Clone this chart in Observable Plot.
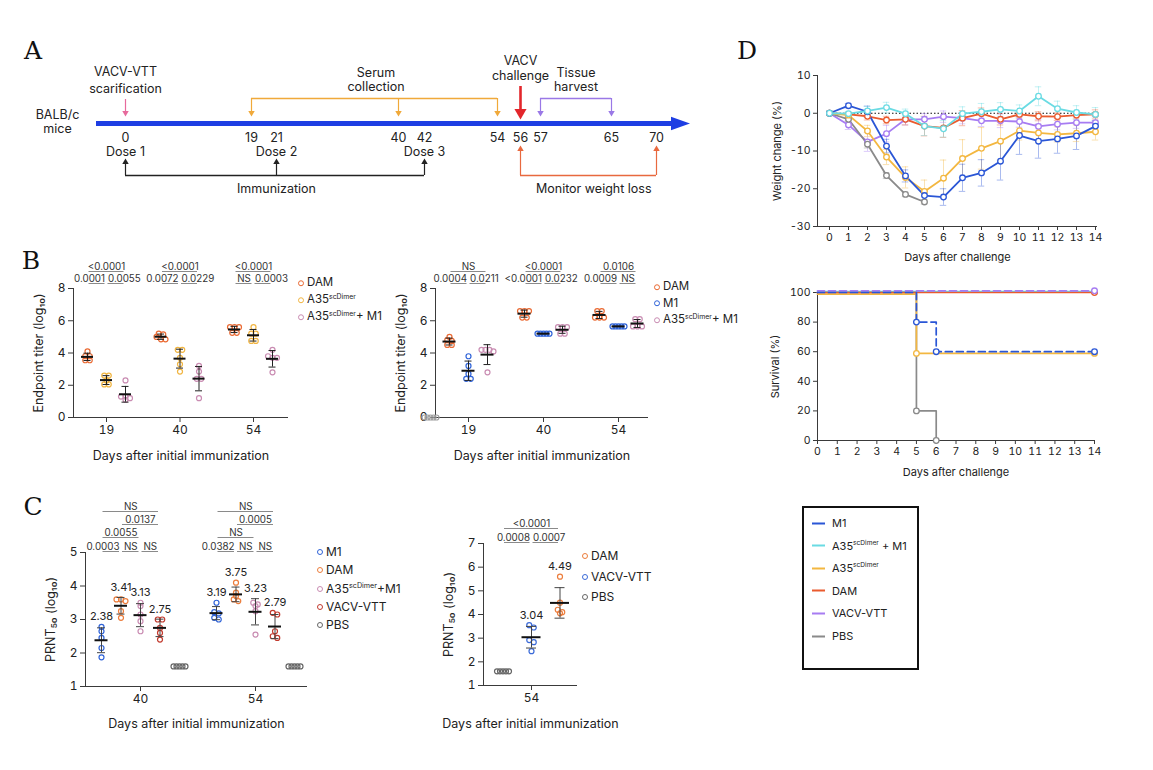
<!DOCTYPE html>
<html>
<head>
<meta charset="utf-8">
<script src="https://cdn.jsdelivr.net/npm/d3@7"></script>
<script src="https://cdn.jsdelivr.net/npm/@observablehq/plot@0.6"></script>
<style>
html,body{margin:0;padding:0;background:#fff;overflow:hidden;}
#fig{position:relative;width:1153px;height:770px;font-family:Inter,"Noto Sans","DejaVu Sans",sans-serif;color:#222;}
#fig > svg{position:absolute;left:0;top:0;}
.letter{position:absolute;font-family:"DejaVu Serif","Liberation Serif",serif;font-size:25px;line-height:1;transform:translate(-50%,-50%);color:#111;}
.lg{position:absolute;display:flex;align-items:center;white-space:nowrap;line-height:1;transform:translateY(-50%);color:#222;}
.lg .dotsw{display:inline-block;box-sizing:border-box;border-radius:50%;border:1.3px solid;background:transparent;flex:none;}
.lg .linesw{display:inline-block;height:2px;flex:none;}
.lg sup{font-size:0.6em;vertical-align:0.65em;line-height:0;}
.box{position:absolute;border:2px solid #111;box-sizing:border-box;}
</style>
</head>
<body>
<div id="fig"></div>
<script>
// ===================== DATA =====================
// Panel A: study timeline (days)
const timelineDays = [0, 19, 21, 40, 42, 54, 56, 57, 65, 70];
const doseDays = [0, 21, 42];
const doseLabels = ["Dose 1", "Dose 2", "Dose 3"];
const scarificationDay = 0;
const serumDays = [19, 40, 54];
const challengeDay = 56;
const harvestDays = [57, 65];
const monitorDays = [56, 70];

// Panel B (left): endpoint titer, log10, per mouse
const bDays = [19, 40, 54];
const bLeftNames = ["DAM", "A35scDimer", "A35scDimer+ M1"];
const bLeftDAM = [[4.1, 3.8, 3.8, 3.55, 3.55], [5.2, 5.15, 5.0, 4.85, 4.85], [5.6, 5.6, 5.6, 5.25, 5.25]];
const bLeftA35 = [[2.6, 2.6, 2.3, 2.05, 2.05], [4.2, 4.2, 3.7, 3.3, 2.85], [5.6, 5.2, 5.2, 4.75, 4.75]];
const bLeftA35M1 = [[2.3, 1.3, 1.3, 1.2, 1.1], [3.2, 2.85, 2.4, 2.4, 1.2], [4.2, 3.8, 3.7, 3.7, 2.8]];
const bLeftP = [["<0.0001", "0.0001", "0.0055"], ["<0.0001", "0.0072", "0.0229"], ["<0.0001", "NS", "0.0003"]];

// Panel B (right)
const bRightNames = ["DAM", "M1", "A35scDimer+ M1"];
const bRightDAM = [[5.0, 4.8, 4.75, 4.5, 4.5], [6.6, 6.6, 6.6, 6.2, 6.2], [6.6, 6.6, 6.2, 6.2, 6.2]];
const bRightM1 = [[3.8, 3.2, 2.7, 2.4, 2.4], [5.2, 5.2, 5.2, 5.2, 5.2], [5.65, 5.65, 5.65, 5.65, 5.65]];
const bRightA35M1 = [[4.2, 4.2, 4.2, 4.1, 2.8], [5.6, 5.6, 5.6, 5.2, 5.2], [6.1, 6.1, 5.65, 5.65, 5.65]];
const bRightPBS = [0, 0, 0, 0, 0];
const bRightP = [["NS", "0.0004", "0.0211"], ["<0.0001", "<0.0001", "0.0232"], ["0.0106", "0.0009", "NS"]];

// Panel C (left): PRNT50, log10
const cDays = [40, 54];
const cLeftNames = ["M1", "DAM", "A35scDimer+M1", "VACV-VTT", "PBS"];
const cLeftM1 = [[2.78, 2.65, 2.45, 2.15, 1.87], [3.5, 3.22, 3.18, 3.05, 3.0]];
const cLeftDAM = [[3.6, 3.6, 3.55, 3.25, 3.05], [4.1, 3.8, 3.7, 3.6, 3.55]];
const cLeftA35M1 = [[3.5, 3.4, 3.15, 2.95, 2.65], [3.5, 3.45, 3.4, 3.25, 2.55]];
const cLeftVACV = [[3.0, 3.0, 2.75, 2.6, 2.4], [3.2, 3.15, 2.65, 2.5, 2.45]];
const cLeftPBS = [[1.6, 1.6, 1.6, 1.6, 1.6], [1.6, 1.6, 1.6, 1.6, 1.6]];
const cLeftP = [["NS", "0.0137", "0.0055", "0.0003", "NS", "NS"], ["NS", "0.0005", "NS", "0.0382", "NS", "NS"]];

// Panel C (right)
const cRightDays = [54];
const cRightNames = ["DAM", "VACV-VTT", "PBS"];
const cRightDAM = [5.6, 4.5, 4.2, 4.1, 4.05];
const cRightVACV = [3.55, 3.45, 2.92, 2.83, 2.45];
const cRightPBS = [1.6, 1.6, 1.6, 1.6, 1.6];
const cRightP = ["<0.0001", "0.0008", "0.0007"];

// Comparison brackets (indices of groups from left to right) and their rows (0 = top)
const bLeftComps = [[0, 2], [0, 1], [1, 2]];
const bRightComps = [[1, 3], [1, 2], [2, 3]];
const bRows = [0, 1, 1];
const cLeftComps = [[0, 3], [1, 3], [0, 2], [0, 1], [1, 2], [2, 3]];
const cLeftRows = [0, 1, 2, 3, 3, 3];
const cRightComps = [[0, 2], [0, 1], [1, 2]];
const cRightRows = [0, 1, 1];

// Panel D: weight change (%) mean and SD per day after challenge
const dDays = [0, 1, 2, 3, 4, 5, 6, 7, 8, 9, 10, 11, 12, 13, 14];
const dNames = ["M1", "A35scDimer + M1", "A35scDimer", "DAM", "VACV-VTT", "PBS"];
const wM1 = [0, 2.0, 0.4, -8.7, -16.6, -21.8, -22.2, -17.1, -15.8, -12.7, -5.9, -7.4, -6.8, -6.0, -3.4];
const wM1sd = [0, 0.6, 1.5, 1.8, 1.6, 1.2, 2.2, 3.6, 3.5, 5.0, 5.0, 4.5, 3.8, 3.6, 1.5];
const wA35M1 = [0, -0.1, 0.6, 1.5, -0.1, -3.4, -4.1, -0.1, 0.4, 1.0, 0.6, 4.5, 1.2, 0.2, -0.3];
const wA35M1sd = [0, 0.5, 1.2, 1.4, 1.2, 2.5, 2.2, 1.8, 2.2, 1.8, 1.6, 2.5, 2.0, 1.8, 1.8];
const wA35 = [0, -0.5, -4.7, -11.6, -17.0, -20.7, -17.2, -12.0, -9.3, -7.4, -4.6, -5.2, -5.6, -5.3, -4.9];
const wA35sd = [0, 0.6, 1.5, 2.0, 2.8, 3.0, 4.8, 5.0, 5.5, 5.0, 2.5, 2.2, 2.0, 2.2, 2.2];
const wDAM = [0, -0.3, -0.8, -1.8, -1.6, -3.4, -3.9, -1.3, -0.1, -1.6, -0.3, -0.8, -0.9, -0.5, -0.3];
const wDAMsd = [0, 0.5, 1.0, 1.0, 1.5, 2.6, 2.5, 2.0, 1.5, 1.5, 1.0, 1.2, 1.0, 1.0, 1.2];
const wVACV = [0, -3.1, -7.6, -5.4, -1.6, -1.6, -0.9, -1.3, -2.0, -2.0, -2.2, -3.5, -2.9, -2.5, -2.5];
const wVACVsd = [0, 1.2, 2.5, 2.2, 1.5, 1.5, 1.5, 1.5, 1.5, 1.8, 1.5, 1.8, 1.5, 1.5, 1.5];
const wPBS = [0, -1.6, -8.2, -16.5, -21.5, -23.5];
const wPBSsd = [0, 0.6, 1.0, 0.8, 0.6, 0.6];

// Panel D: survival (%)
const survTimes = [0, 5, 6, 14];
const survM1 = [100, 80, 60, 60];
const survA35M1 = [100, 100, 100, 100];
const survA35 = [100, 60, 60, 60];
const survDAM = [100, 100, 100, 100];
const survVACV = [100, 100, 100, 100];
const survPBS = [100, 20, 0, null];

// ===================== LAYOUT / STYLE =====================
const W = 1153, H = 770;
const FONT = 'Inter, "Noto Sans", "DejaVu Sans", sans-serif';
const AX = "#3a3a3a";
const fig = document.getElementById("fig");
const COL = {DAM: "#ea6a33", A35: "#f1b541", A35M1: "#c98cb2", M1: "#2f63d8", VACV: "#c23a2e", PBS: "#8f8f8f", DAMc: "#ec7d3c"};
const DCOL = {M1: "#2a56d6", A35M1: "#6adbe3", A35: "#f3b740", DAM: "#ea5b2e", VACV: "#a77cf2", PBS: "#8a8a8a"};
const dColors = [DCOL.M1, DCOL.A35M1, DCOL.A35, DCOL.DAM, DCOL.VACV, DCOL.PBS];
const intFmt = d => String(d);

const baseStyle = {background: "transparent", fontFamily: FONT, color: "#222", overflow: "visible"};
function framePlot(frame, opts) {
  return Plot.plot(Object.assign({
    width: W, height: H,
    marginLeft: frame.l, marginRight: W - frame.r,
    marginTop: frame.t, marginBottom: H - frame.b,
    style: baseStyle
  }, opts));
}
function add(node) { fig.appendChild(node); }
function fmtName(n) { return n.replace("scDimer", "<sup>scDimer</sup>"); }
const xTitleMark = (t, dy, fs) => Plot.text([t], {text: d => d, frameAnchor: "bottom", lineAnchor: "middle", textAnchor: "middle", dy, fontSize: fs});
const yTitleMark = (t, dx, fs) => Plot.text([t], {text: d => d, frameAnchor: "left", textAnchor: "middle", lineAnchor: "middle", rotate: -90, dx, fontSize: fs});

// beeswarm-like horizontal spreading of points with similar values (pixel offsets)
function swarm(vals, ppu, binPx = 3) {
  const order = d3.range(vals.length).sort((a, b) => vals[b] - vals[a]);
  const off = vals.map(() => 0);
  let bin = [], top = 0;
  const flush = () => {
    const n = bin.length, step = n > 1 ? Math.min(4.5, 12 / (n - 1)) : 0;
    bin.forEach((i, k) => off[i] = (k - (n - 1) / 2) * step);
    bin = [];
  };
  for (const i of order) {
    const p = vals[i] * ppu;
    if (bin.length && top - p > binPx) flush();
    if (!bin.length) top = p;
    bin.push(i);
  }
  flush();
  return off;
}

function scatterPanel(cfg) {
  const {frame, c0, dayPx, gPx, yDomain, yTicks, dayLabels, groups, comps, rows, pvals, rowPx,
    r, meanHalf, capHalf, errColor, xTitle, yTitle, titleDy, yTitleDx, meanLabels} = cfg;
  const ppu = (frame.b - frame.t) / (yDomain[1] - yDomain[0]);
  const u = px => px / dayPx;
  const xDomain = [u(frame.l - c0), u(frame.r - c0)];
  const pts = [], stats = [];
  for (const g of groups) {
    g.values.forEach((vals, di) => {
      if (!vals) return;
      const cx = di + u(g.slot * gPx);
      const off = swarm(vals, ppu);
      vals.forEach((v, k) => pts.push({name: g.name, x: cx + u(off[k]), y: v}));
      if (g.summary) {
        const m = d3.mean(vals), s = d3.deviation(vals);
        stats.push({cx, m, s, top: Math.max(d3.max(vals), m + s)});
      }
    });
  }
  const sorted = groups.slice().sort((a, b) => a.slot - b.slot);
  const inset = 1.5;
  const sig = [];
  pvals.forEach((plist, di) => {
    comps.forEach(([a, b], j) => {
      const x1 = di + u(sorted[a].slot * gPx + inset);
      const x2 = di + u(sorted[b].slot * gPx - inset);
      const y = yDomain[1] + rowPx[rows[j]] / ppu;
      const same = comps.filter((c, k) => rows[k] === rows[j]);
      let anchor = "middle";
      if (plist[j] !== "NS" && same.length > 1) {
        if (a === d3.min(same, c => c[0])) anchor = "end";
        else if (b === d3.max(same, c => c[1])) anchor = "start";
      }
      const xt = anchor === "end" ? x2 : anchor === "start" ? x1 : (x1 + x2) / 2;
      sig.push({x1, x2, y, xt, anchor, text: plist[j]});
    });
  });
  const marks = [
    Plot.ruleX([xDomain[0]], {stroke: AX}),
    Plot.ruleY([yDomain[0]], {stroke: AX}),
    Plot.axisY({ticks: yTicks, tickFormat: intFmt, tickSize: 5, tickPadding: 3, fontSize: 12, label: null, stroke: AX}),
    Plot.axisX({ticks: dayLabels.map((d, i) => i), tickFormat: i => String(dayLabels[Math.round(i)]), tickSize: 5, tickPadding: 3, fontSize: 12, label: null, stroke: AX}),
    Plot.dot(pts, {x: "x", y: "y", r, stroke: "name", fill: "none", strokeWidth: 1.2}),
    Plot.ruleX(stats, {x: "cx", y1: d => d.m - d.s, y2: d => d.m + d.s, stroke: errColor, strokeWidth: 1}),
    Plot.ruleY(stats, {y: d => d.m - d.s, x1: d => d.cx - u(capHalf), x2: d => d.cx + u(capHalf), stroke: errColor}),
    Plot.ruleY(stats, {y: d => d.m + d.s, x1: d => d.cx - u(capHalf), x2: d => d.cx + u(capHalf), stroke: errColor}),
    Plot.ruleY(stats, {y: "m", x1: d => d.cx - u(meanHalf), x2: d => d.cx + u(meanHalf), stroke: "#111", strokeWidth: 2}),
    Plot.ruleY(sig, {y: "y", x1: "x1", x2: "x2", stroke: "#8a8a8a", strokeWidth: 1}),
    ...["start", "middle", "end"].map(a => Plot.text(sig.filter(d => d.anchor === a),
      {x: "xt", y: "y", text: "text", textAnchor: a, lineAnchor: "bottom", dy: -1.5, fontSize: 9.8, fill: "#333"})),
    xTitleMark(xTitle, titleDy, 12.5),
    yTitleMark(yTitle, yTitleDx, 12.5)
  ];
  if (meanLabels) marks.push(Plot.text(stats, {x: "cx", y: "top", text: d => d.m.toFixed(2), dy: -10, fontSize: 11}));
  return framePlot(frame, {
    x: {domain: xDomain},
    y: {domain: yDomain},
    color: {domain: groups.map(g => g.name), range: groups.map(g => g.color)},
    marks
  });
}

function dotLegend(names, colors, {x, y, dy, fs, d = 6, gap = 3}) {
  names.forEach((n, i) => {
    const el = document.createElement("div");
    el.className = "lg";
    el.style.left = (x - d / 2) + "px";
    el.style.top = (y + i * dy) + "px";
    el.style.fontSize = fs + "px";
    el.innerHTML = `<span class="dotsw" style="width:${d}px;height:${d}px;border-color:${colors[i]};margin-right:${gap}px"></span><span>${fmtName(n)}</span>`;
    add(el);
  });
}

function letter(t, x, y) {
  const el = document.createElement("div");
  el.className = "letter";
  el.style.left = x + "px"; el.style.top = y + "px";
  el.textContent = t;
  add(el);
}

// ===================== PANEL A =====================
try {
  // schematic (not-to-scale) horizontal placement of the timeline days
  const timelinePx = [125, 251, 276, 398, 424, 497, 520, 540, 611, 656];
  const tl = d3.scaleLinear().domain(timelineDays).range(timelinePx);
  const LA = {title: 78.5, brTop: 98, brTip: 116, axis: 123, num: 137, dose: 151, brBot: 175, immTip: 158, monTip: 145, label2: 188, chalTop: 86, chalTip: 119, chalText: 67.5, scarTop: 99, scarTip: 116, balb: 121};
  const C = {blue: "#1e3ee3", orange: "#f0a93a", red: "#e3262b", purple: "#9a78e6", pink: "#e76a9c", mon: "#e8693f", black: "#222"};
  const mid = a => (d3.min(a) + d3.max(a)) / 2;
  const fs = 12.5;
  const head = {draw(ctx, size) { const k = Math.sqrt(size / Math.PI); ctx.moveTo(k, 0); ctx.lineTo(-k, -0.7 * k); ctx.lineTo(-k, 0.7 * k); ctx.closePath(); }};
  // arrow = shaft + filled triangular head (tip exactly at y2)
  const arr = (data, y1, y2, stroke, w = 1.2, r = 2.4) => {
    const k = Math.sqrt(Math.PI * r * r / (3 * Math.sqrt(3)));
    const down = y2 > y1;
    return [
      Plot.ruleX(data, {x: d => tl(d), y1: () => y1, y2: () => y2 + (down ? -2 * k : 2 * k), stroke, strokeWidth: w}),
      Plot.dot(data, {x: d => tl(d), y: () => y2, dy: down ? -2 * k : 2 * k, symbol: "triangle", rotate: down ? 180 : 0, r, fill: stroke, stroke: "none"})
    ];
  };
  const bracket = (days, y, stroke) => Plot.ruleY([days], {y: () => y, x1: d => tl(d3.min(d)), x2: d => tl(d3.max(d)), stroke, strokeWidth: 1.3});
  const label = (day, y, t, lh) => Plot.text([day], {x: d => tl(d), y: () => y, text: () => t, fontSize: fs, lineHeight: lh || 1});
  add(framePlot({l: 96, r: 680, t: 0, b: H}, {
    x: {type: "identity", axis: null},
    y: {type: "identity", axis: null},
    marks: [
      Plot.ruleY([LA.axis], {y: d => d, stroke: C.blue, strokeWidth: 5}),
      Plot.dot([LA.axis], {y: d => d, frameAnchor: "right", symbol: head, r: 9.5, fill: C.blue, stroke: "none"}),
      Plot.text(timelineDays, {x: d => tl(d), y: () => LA.num, text: d => String(d), fontSize: fs}),
      Plot.text(doseDays, {x: d => tl(d), y: () => LA.dose, text: (d, i) => doseLabels[i], fontSize: fs}),
      // scarification
      ...arr([scarificationDay], LA.scarTop, LA.scarTip, C.pink),
      label(scarificationDay, LA.title, "VACV-VTT\nscarification", 1.35),
      // serum collection
      bracket(serumDays, LA.brTop, C.orange),
      ...arr(serumDays, LA.brTop, LA.brTip, C.orange),
      label(mid(serumDays), LA.title + 0.5, "Serum\ncollection", 1.12),
      // challenge
      ...arr([challengeDay], LA.chalTop, LA.chalTip, C.red, 2.6, 4.5),
      label(challengeDay, LA.chalText, "VACV\nchallenge", 1.2),
      // tissue harvest
      bracket(harvestDays, LA.brTop, C.purple),
      ...arr(harvestDays, LA.brTop, LA.brTip, C.purple),
      label(mid(harvestDays), LA.title + 0.5, "Tissue\nharvest", 1.12),
      // immunization
      bracket(doseDays, LA.brBot, C.black),
      ...arr(doseDays, LA.brBot, LA.immTip, C.black),
      label(mid(doseDays), LA.label2, "Immunization"),
      // monitor weight loss
      bracket(monitorDays, LA.brBot, C.mon),
      ...arr(monitorDays, LA.brBot, LA.monTip, C.mon),
      label(mid(monitorDays), LA.label2, "Monitor weight loss"),
      // subject
      Plot.text(["BALB/c\nmice"], {text: d => d, frameAnchor: "left", textAnchor: "middle", y: () => LA.balb, dx: -39, fontSize: fs, lineHeight: 1.12})
    ]
  }));
} catch (e) { console.error("Panel A", e); }

// ===================== PANEL B =====================
try {
  add(scatterPanel({
    frame: {l: 73, r: 288, t: 288, b: 417}, c0: 106, dayPx: 73.5, gPx: 19,
    yDomain: [0, 8], yTicks: [0, 2, 4, 6, 8], dayLabels: bDays,
    groups: [
      {name: bLeftNames[0], color: COL.DAM, slot: -1, values: bLeftDAM, summary: true},
      {name: bLeftNames[1], color: COL.A35, slot: 0, values: bLeftA35, summary: true},
      {name: bLeftNames[2], color: COL.A35M1, slot: 1, values: bLeftA35M1, summary: true}
    ],
    comps: bLeftComps, rows: bRows, pvals: bLeftP, rowPx: [17, 5],
    r: 2.5, meanHalf: 6, capHalf: 3.5, errColor: "#222",
    xTitle: "Days after initial immunization", yTitle: "Endpoint titer (log\u2081\u2080)", titleDy: 38, yTitleDx: -35
  }));
  dotLegend(bLeftNames, [COL.DAM, COL.A35, COL.A35M1], {x: 301, y: 283, dy: 17, fs: 11.5});

  add(scatterPanel({
    frame: {l: 435, r: 648, t: 288, b: 417}, c0: 468, dayPx: 75, gPx: 19,
    yDomain: [0, 8], yTicks: [0, 2, 4, 6, 8], dayLabels: bDays,
    groups: [
      {name: "PBS", color: "#a0a0a0", slot: -2, values: [bRightPBS, null, null], summary: false},
      {name: bRightNames[0], color: COL.DAM, slot: -1, values: bRightDAM, summary: true},
      {name: bRightNames[1], color: COL.M1, slot: 0, values: bRightM1, summary: true},
      {name: bRightNames[2], color: COL.A35M1, slot: 1, values: bRightA35M1, summary: true}
    ],
    comps: bRightComps, rows: bRows, pvals: bRightP, rowPx: [17, 5],
    r: 2.5, meanHalf: 6.5, capHalf: 3.5, errColor: "#222",
    xTitle: "Days after initial immunization", yTitle: "Endpoint titer (log\u2081\u2080)", titleDy: 38, yTitleDx: -35
  }));
  dotLegend(bRightNames, [COL.DAM, COL.M1, COL.A35M1], {x: 657, y: 287, dy: 16.5, fs: 11.5});
} catch (e) { console.error("Panel B", e); }

// ===================== PANEL C =====================
try {
  add(scatterPanel({
    frame: {l: 85, r: 307, t: 552, b: 686}, c0: 140, dayPx: 115, gPx: 19.5,
    yDomain: [1, 5], yTicks: [1, 2, 3, 4, 5], dayLabels: cDays,
    groups: [
      {name: cLeftNames[0], color: COL.M1, slot: -2, values: cLeftM1, summary: true},
      {name: cLeftNames[1], color: COL.DAMc, slot: -1, values: cLeftDAM, summary: true},
      {name: cLeftNames[2], color: COL.A35M1, slot: 0, values: cLeftA35M1, summary: true},
      {name: cLeftNames[3], color: COL.VACV, slot: 1, values: cLeftVACV, summary: true},
      {name: cLeftNames[4], color: "#666", slot: 2, values: cLeftPBS, summary: false}
    ],
    comps: cLeftComps, rows: cLeftRows, pvals: cLeftP, rowPx: [41, 28, 15, 1],
    r: 2.5, meanHalf: 6.5, capHalf: 4, errColor: "#444", meanLabels: true,
    xTitle: "Days after initial immunization", yTitle: "PRNT\u2085\u2080 (log\u2081\u2080)", titleDy: 37, yTitleDx: -35
  }));
  dotLegend(cLeftNames, [COL.M1, COL.DAMc, COL.A35M1, COL.VACV, "#666"], {x: 320, y: 552, dy: 18.3, fs: 12});

  add(scatterPanel({
    frame: {l: 483, r: 577, t: 543, b: 685}, c0: 531, dayPx: 28.5, gPx: 28.5,
    yDomain: [1, 7], yTicks: [1, 2, 3, 4, 5, 6, 7], dayLabels: cRightDays,
    groups: [
      {name: cRightNames[0], color: COL.DAMc, slot: 1, values: [cRightDAM], summary: true},
      {name: cRightNames[1], color: "#3a6ad8", slot: 0, values: [cRightVACV], summary: true},
      {name: cRightNames[2], color: "#666", slot: -1, values: [cRightPBS], summary: false}
    ],
    comps: cRightComps, rows: cRightRows, pvals: [cRightP], rowPx: [15, 1],
    r: 2.5, meanHalf: 9.5, capHalf: 5, errColor: "#444", meanLabels: true,
    xTitle: "Days after initial immunization", yTitle: "PRNT\u2085\u2080 (log\u2081\u2080)", titleDy: 38, yTitleDx: -35
  }));
  dotLegend(cRightNames, [COL.DAMc, "#3a6ad8", "#666"], {x: 585, y: 556, dy: 20.5, fs: 12});
} catch (e) { console.error("Panel C", e); }

// ===================== PANEL D (weight) =====================
try {
  const wSeries = [
    {name: dNames[4], vals: wVACV, sd: wVACVsd},
    {name: dNames[3], vals: wDAM, sd: wDAMsd},
    {name: dNames[5], vals: wPBS, sd: wPBSsd},
    {name: dNames[2], vals: wA35, sd: wA35sd},
    {name: dNames[0], vals: wM1, sd: wM1sd},
    {name: dNames[1], vals: wA35M1, sd: wA35M1sd}
  ];
  const wData = wSeries.flatMap(s => s.vals.map((v, i) => ({name: s.name, day: dDays[i], v, sd: s.sd[i]})));
  const wErr = wData.filter(d => d.sd > 0);
  const f = {l: 817, r: 1097, t: 75, b: 226}, day0 = 829, dayPx = 19;
  const xd = [(f.l - day0) / dayPx, (f.r - day0) / dayPx];
  const cap = 0.17;
  add(framePlot(f, {
    x: {domain: xd}, y: {domain: [-30, 10]},
    color: {domain: dNames, range: dColors},
    marks: [
      Plot.ruleX([xd[0]], {stroke: AX}),
      Plot.ruleY([-30], {stroke: AX}),
      Plot.axisY({ticks: [-30, -20, -10, 0, 10], tickFormat: intFmt, tickSize: 4, tickPadding: 3, fontSize: 10.5, label: null, stroke: AX}),
      Plot.axisX({ticks: dDays, tickFormat: intFmt, tickSize: 4, tickPadding: 3, fontSize: 10.5, label: null, stroke: AX}),
      Plot.ruleY([0], {x1: () => d3.min(dDays), x2: () => d3.max(dDays), stroke: "#111", strokeDasharray: "1.5,2"}),
      Plot.ruleX(wErr, {x: "day", y1: d => d.v - d.sd, y2: d => d.v + d.sd, stroke: "name", strokeOpacity: 0.4}),
      Plot.ruleY(wErr, {y: d => d.v - d.sd, x1: d => d.day - cap, x2: d => d.day + cap, stroke: "name", strokeOpacity: 0.4}),
      Plot.ruleY(wErr, {y: d => d.v + d.sd, x1: d => d.day - cap, x2: d => d.day + cap, stroke: "name", strokeOpacity: 0.4}),
      Plot.line(wData, {x: "day", y: "v", z: "name", stroke: "name", strokeWidth: 1.8}),
      Plot.dot(wData, {x: "day", y: "v", stroke: "name", fill: "white", r: 2.8, strokeWidth: 1.3}),
      xTitleMark("Days after challenge", 31, 11),
      yTitleMark("Weight change (%)", -40, 11)
    ]
  }));
} catch (e) { console.error("Panel D top", e); }

// ===================== PANEL D (survival) =====================
try {
  const sSeries = [
    {vals: survA35M1, color: DCOL.A35M1, dash: null, dy: -0.8},
    {vals: survPBS, color: DCOL.PBS, dash: null, dy: 0},
    {vals: survA35, color: DCOL.A35, dash: null, dy: 1.7},
    {vals: survDAM, color: DCOL.DAM, dash: null, dy: 0},
    {vals: survVACV, color: DCOL.VACV, dash: "7,4", dy: -1.7},
    {vals: survM1, color: DCOL.M1, dash: "7,4", dy: 0}
  ];
  const f = {l: 817, r: 1094, t: 292, b: 440};
  const lineMarks = [], dotMarks = [];
  for (const s of sSeries) {
    const data = survTimes.map((t, i) => ({t, v: s.vals[i]})).filter(d => d.v != null);
    const markers = data.filter((d, i) => i > 0 && (d.v !== data[i - 1].v || i === data.length - 1));
    lineMarks.push(Plot.line(data, {x: "t", y: "v", curve: "step-after", stroke: s.color, strokeWidth: 1.7, strokeDasharray: s.dash, dy: s.dy}));
    dotMarks.push(Plot.dot(markers, {x: "t", y: "v", r: 2.8, stroke: s.color, fill: "white", strokeWidth: 1.3, dy: s.dy}));
  }
  add(framePlot(f, {
    x: {domain: [0, 14]}, y: {domain: [0, 100]},
    marks: [
      Plot.ruleX([0], {stroke: AX}),
      Plot.ruleY([0], {stroke: AX}),
      Plot.axisY({ticks: [0, 20, 40, 60, 80, 100], tickFormat: intFmt, tickSize: 4, tickPadding: 3, fontSize: 10.5, label: null, stroke: AX}),
      Plot.axisX({ticks: dDays, tickFormat: intFmt, tickSize: 4, tickPadding: 3, fontSize: 10.5, label: null, stroke: AX}),
      ...lineMarks, ...dotMarks,
      xTitleMark("Days after challenge", 32, 11),
      yTitleMark("Survival (%)", -42, 11)
    ]
  }));

  // legend box for panel D
  const box = document.createElement("div");
  box.className = "box";
  Object.assign(box.style, {left: "802px", top: "506px", width: "117px", height: "164px"});
  add(box);
  dNames.forEach((n, i) => {
    const el = document.createElement("div");
    el.className = "lg";
    el.style.left = "812px";
    el.style.top = (523 + i * 22.6) + "px";
    el.style.fontSize = "11px";
    el.innerHTML = `<span class="linesw" style="width:13px;background:${dColors[i]};margin-right:7px"></span><span>${fmtName(n)}</span>`;
    add(el);
  });
} catch (e) { console.error("Panel D bottom", e); }

letter("A", 33, 50);
letter("B", 31, 260);
letter("C", 33, 506);
letter("D", 747, 50);
</script>
</body>
</html>
